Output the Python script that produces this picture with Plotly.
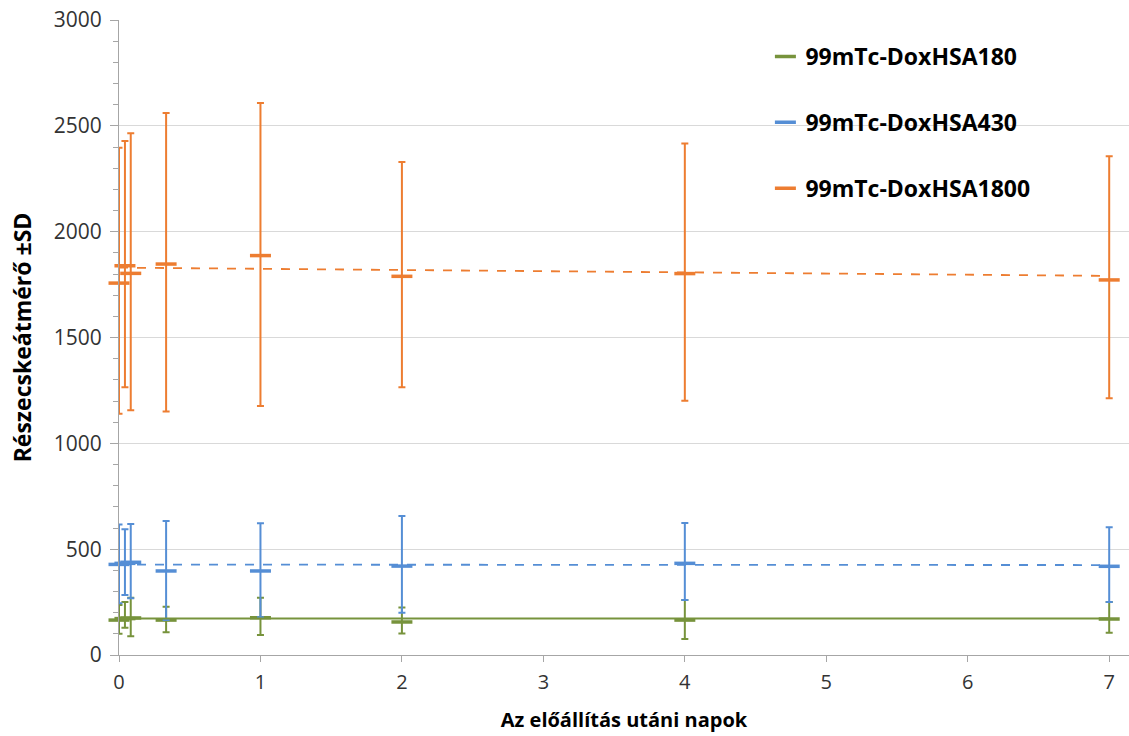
import plotly.graph_objects as go

days = [0, 0.042, 0.083, 0.333, 1, 2, 4, 7]
names = ["99mTc-DoxHSA180", "99mTc-DoxHSA430", "99mTc-DoxHSA1800"]

mean_180 = [165, 172, 175, 165, 176, 156, 165, 170]
up_180 = [236, 250, 270, 228, 271, 225, 260, 250]
low_180 = [100, 129, 88, 107, 94, 101, 76, 105]

mean_430 = [428, 433, 438, 397, 397, 420, 433, 419]
up_430 = [616, 594, 619, 633, 622, 657, 624, 603]
low_430 = [244, 283, 268, 165, 178, 200, 260, 250]

mean_1800 = [1757, 1839, 1803, 1847, 1887, 1789, 1802, 1772]
up_1800 = [2397, 2428, 2465, 2561, 2608, 2329, 2417, 2356]
low_1800 = [1140, 1265, 1156, 1150, 1176, 1265, 1201, 1213]

trend_days = [0, 7]
trend_180 = [173, 173]
trend_430 = [427, 425]
trend_1800 = [1830, 1791]

x_ticks = [0, 1, 2, 3, 4, 5, 6, 7]
y_ticks = [0, 500, 1000, 1500, 2000, 2500, 3000]

colors = ["#77933C", "#558ED5", "#ED7D31"]
means = [mean_180, mean_430, mean_1800]
ups = [up_180, up_430, up_1800]
lows = [low_180, low_430, low_1800]
trends = [trend_180, trend_430, trend_1800]
trend_dash = ["solid", "dash", "dash"]

fig = go.Figure()

for i in range(3):
    plus = [u - m for u, m in zip(ups[i], means[i])]
    minus = [m - l for m, l in zip(means[i], lows[i])]
    fig.add_trace(go.Scatter(
        x=days, y=means[i], mode="markers", name=names[i],
        legendgroup=names[i],
        marker=dict(symbol="line-ew", size=15, color=colors[i],
                    line=dict(color=colors[i], width=3.5)),
        error_y=dict(type="data", symmetric=False, array=plus, arrayminus=minus,
                     color=colors[i], thickness=2, width=3.5),
        cliponaxis=False,
    ))

for i in range(3):
    fig.add_trace(go.Scatter(
        x=trend_days, y=trends[i], mode="lines", showlegend=False,
        line=dict(color=colors[i], width=2 if i == 0 else 1.8, dash=trend_dash[i]),
        hoverinfo="skip",
    ))

fig.add_shape(type="rect", xref="paper", yref="paper",
              x0=0.615, x1=0.9376, y0=0.661, y1=0.995,
              fillcolor="white", line=dict(width=0), layer="between")

fig.update_layout(
    width=1129, height=736,
    margin=dict(l=119, r=0, t=20, b=81),
    paper_bgcolor="white", plot_bgcolor="white",
    font=dict(family="Open Sans", color="#333333"),
    showlegend=True,
    legend=dict(x=0.64, xanchor="left", y=0.9764, yanchor="top",
                bgcolor="rgba(0,0,0,0)", tracegroupgap=33,
                font=dict(size=23, color="black", weight="bold"),
                traceorder="grouped", itemwidth=30),
    xaxis=dict(range=[0, 7.14], tickvals=x_ticks, ticks="outside", ticklen=6,
               tickcolor="#A6A6A6", showline=True, linecolor="#A6A6A6", linewidth=1,
               showgrid=False, zeroline=False, tickfont=dict(size=20, color="#333333"),
               ticklabelstandoff=3,
               title=dict(text="Az előállítás utáni napok", standoff=18,
                          font=dict(size=20, color="black", weight="bold"))),
    yaxis=dict(range=[0, 3000], tickvals=y_ticks, ticks="outside", ticklen=8,
               tickcolor="#A6A6A6", showline=True, linecolor="#A6A6A6", linewidth=1,
               showgrid=True, gridcolor="#D9D9D9", gridwidth=1, zeroline=False,
               tickfont=dict(size=21, color="#333333"), ticklabelstandoff=4,
               minor=dict(dtick=100, ticks="outside", ticklen=5, tickcolor="#A6A6A6",
                          showgrid=False),
               title=dict(text="Részecskeátmérő ±SD", standoff=15,
                          font=dict(size=23, color="black", weight="bold"))),
)

fig.write_html("out.html", config={"displayModeBar": False},
               post_script="document.body.style.margin='0';")
